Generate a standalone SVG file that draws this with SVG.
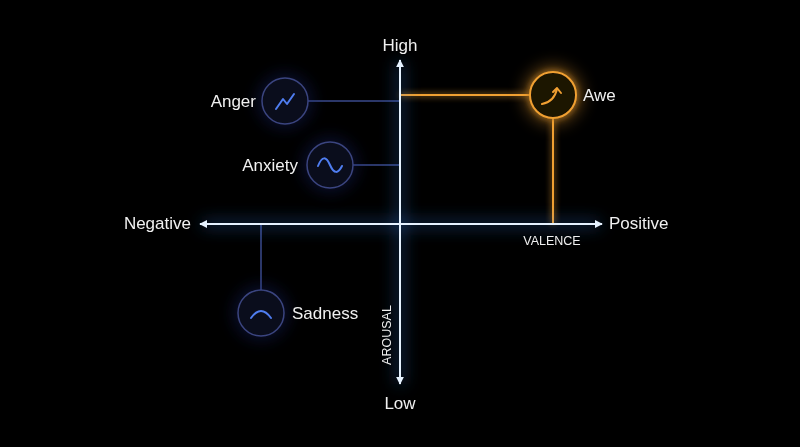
<svg xmlns="http://www.w3.org/2000/svg" width="800" height="447" viewBox="0 0 800 447">
<defs>
<filter id="glow" x="-50%" y="-50%" width="200%" height="200%"><feGaussianBlur stdDeviation="3" result="b"/><feMerge><feMergeNode in="b"/><feMergeNode in="SourceGraphic"/></feMerge></filter>
<filter id="halo" x="-100%" y="-100%" width="300%" height="300%"><feGaussianBlur stdDeviation="8"/></filter>
<marker id="ah" viewBox="0 0 10 10" refX="9" refY="5" markerWidth="4" markerHeight="4" orient="auto-start-reverse"><path d="M0,0L10,5L0,10z" fill="#e6f2ff"/></marker>
<style>
.t{font-family:"Liberation Sans",Arial,sans-serif;fill:#f0f0f0;font-size:17px}
.s{font-family:"Liberation Sans",Arial,sans-serif;fill:#f0f0f0;font-size:12.5px}
.ax{stroke:#e6f2ff;stroke-width:2;fill:none}
.axg{stroke:#3a8cff;stroke-width:5;fill:none;opacity:0.5}
.bl{stroke:#3a4a8c;stroke-width:1.5;fill:none}
.bc{fill:#0a0d1c;stroke:#3b4580;stroke-width:1.5}
.ic{stroke:#4f7df0;stroke-width:2;fill:none;stroke-linecap:round;stroke-linejoin:round}
.or{stroke:#f0a030;stroke-width:2;fill:none}
</style>
</defs>
<rect width="800" height="447" fill="#000"/>
<g id="connectors">
<line class="bl" x1="308" y1="101" x2="400" y2="101"/>
<line class="bl" x1="353" y1="165" x2="400" y2="165"/>
<line class="bl" x1="261" y1="224" x2="261" y2="290"/>
<g filter="url(#glow)">
<line class="or" x1="400" y1="95" x2="530" y2="95"/>
<line class="or" x1="553" y1="118" x2="553" y2="224"/>
</g>
</g>
<g id="axes">
<g filter="url(#halo)">
<line class="axg" x1="400" y1="384" x2="400" y2="62"/>
<line class="axg" x1="202" y1="224" x2="600" y2="224"/>
</g>
<line class="ax" x1="400" y1="384" x2="400" y2="60" marker-end="url(#ah)" marker-start="url(#ah)"/>
<line class="ax" x1="200" y1="224" x2="602" y2="224" marker-end="url(#ah)" marker-start="url(#ah)"/>
</g>
<text class="t" x="400" y="51" text-anchor="middle">High</text>
<text class="t" x="400" y="409" text-anchor="middle">Low</text>
<text class="t" x="191" y="229" text-anchor="end">Negative</text>
<text class="t" x="609" y="229">Positive</text>
<text class="s" x="552" y="245" text-anchor="middle">VALENCE</text>
<text class="s" x="0" y="0" text-anchor="middle" transform="translate(391,335) rotate(-90)">AROUSAL</text>
<g id="anger">
<circle cx="285" cy="101" r="28" fill="#1a2a7a" opacity="0.35" filter="url(#halo)"/>
<circle class="bc" cx="285" cy="101" r="23"/>
<path class="ic" d="M276,109L283,99L287,104L294,94"/>
<text class="t" x="256" y="107" text-anchor="end">Anger</text>
</g>
<g id="anxiety">
<circle cx="330" cy="165" r="28" fill="#1a2a7a" opacity="0.35" filter="url(#halo)"/>
<circle class="bc" cx="330" cy="165" r="23"/>
<path class="ic" d="M318,166C322,156 326,156 330,165C334,174 338,174 342,166"/>
<text class="t" x="298" y="171" text-anchor="end">Anxiety</text>
</g>
<g id="sadness">
<circle cx="261" cy="313" r="28" fill="#1a2a7a" opacity="0.35" filter="url(#halo)"/>
<circle class="bc" cx="261" cy="313" r="23"/>
<path class="ic" d="M251,318Q261,304 271,318"/>
<text class="t" x="292" y="319">Sadness</text>
</g>
<g id="awe">
<circle cx="553" cy="95" r="30" fill="#f0a030" opacity="0.35" filter="url(#halo)"/>
<g filter="url(#glow)">
<circle cx="553" cy="95" r="23" fill="#1a1205" stroke="#f0a030" stroke-width="2"/>
<path d="M542,104Q554,102 557,89" class="or" stroke-linecap="round"/>
<path d="M553,92L557,88L561,93" class="or" stroke-linecap="round" stroke-linejoin="round"/>
</g>
<text class="t" x="583" y="101">Awe</text>
</g>
</svg>
